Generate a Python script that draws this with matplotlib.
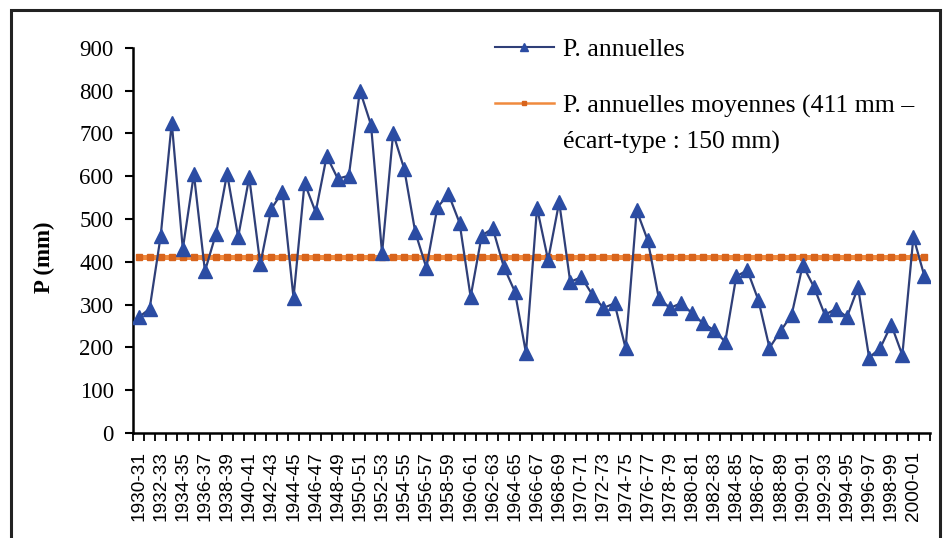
import numpy as np
import matplotlib

matplotlib.use("Agg")
import matplotlib.pyplot as plt
from matplotlib.patches import Rectangle

# hydrological years 1930-31 .. 2001-02
start_years = list(range(1930, 2002))
seasons = [f"{y}-{(y + 1) % 100:02d}" for y in start_years]

annual_p = [270, 290, 460, 725, 430, 605, 378, 466, 606, 458,
            597, 394, 524, 563, 316, 584, 516, 647, 594, 601,
            800, 720, 420, 700, 617, 469, 386, 527, 558, 491,
            318, 461, 478, 388, 330, 187, 526, 404, 539, 353,
            364, 323, 292, 303, 198, 520, 450, 315, 292, 303,
            280, 256, 240, 213, 366, 380, 310, 199, 238, 276,
            392, 342, 276, 290, 271, 340, 176, 198, 253, 182,
            458, 366]
mean_p = 411

BLUE = "#2B4CA3"
LINE_BLUE = "#2F3F78"
ORANGE = "#F08A3E"
ORANGE_DARK = "#D8641C"

fig = plt.figure(figsize=(9.44, 5.38), dpi=100)
ax = fig.add_axes([133 / 944, 1 - 433 / 538, (930 - 133) / 944, (433 - 47.7) / 538])

x = np.arange(len(annual_p))
ax.plot(x, [mean_p] * len(x), color=ORANGE, lw=3.6, marker="s", ms=3.8,
        mfc=ORANGE_DARK, mec=ORANGE_DARK, label="P. annuelles moyennes (411 mm –", zorder=2)
ax.plot(x, annual_p, color=LINE_BLUE, lw=1.6, marker="^", ms=10,
        mfc=BLUE, mec=BLUE, label="P. annuelles", zorder=3)

ax.set_xlim(-0.5, len(x) - 0.5)
ax.set_ylim(0, 900)
ax.set_yticks(range(0, 901, 100))
ax.tick_params(axis="y", direction="out", length=6, width=1.5, pad=8, labelsize=16.5)
for t in ax.get_yticklabels():
    t.set_family("Liberation Serif")

# Excel-style: ticks between categories, label every second season
ax.set_xticks(np.arange(-0.5, len(x), 1.0), minor=False)
ax.set_xticklabels([])
ax.set_xticks(x[::2], minor=True)
ax.set_xticklabels(seasons[::2], minor=True, rotation=90, family="Liberation Sans",
                   fontsize=13.7)
ax.tick_params(axis="x", which="major", direction="out", length=6, width=1.3)
ax.tick_params(axis="x", which="minor", length=0, pad=13)

for side in ("top", "right"):
    ax.spines[side].set_visible(False)
ax.spines["left"].set_linewidth(1.8)
ax.spines["bottom"].set_linewidth(1.8)

ax.set_ylabel("P (mm)", family="Liberation Serif", fontweight="bold", fontsize=16.5)
ax.yaxis.set_label_coords(-0.098, 0.455)

h, l = ax.get_legend_handles_labels()
leg = ax.legend(h[::-1], l[::-1], loc="upper left", bbox_to_anchor=(0.425, 1.085),
                frameon=False, prop={"family": "Liberation Serif", "size": 18.5},
                handlelength=2.3, handletextpad=0.35, labelspacing=1.3,
                markerscale=0.6)
leg.get_lines()[0].set_linewidth(1.5)
leg.get_lines()[1].set_linewidth(1.8)
fig.canvas.draw()
tb = leg.get_texts()[1].get_window_extent()
fig.text(tb.x0 / fig.bbox.width, (tb.y0 - 36) / fig.bbox.height, "écart-type : 150 mm)",
         family="Liberation Serif", fontsize=18.5, ha="left", va="bottom")

fig.patches.append(Rectangle((11 / 944, -0.05), (940 - 11) / 944, 1.05 - 10 / 538,
                             transform=fig.transFigure, fill=False, lw=2.2,
                             edgecolor="#222222"))

fig.savefig("out.png", dpi=100)
